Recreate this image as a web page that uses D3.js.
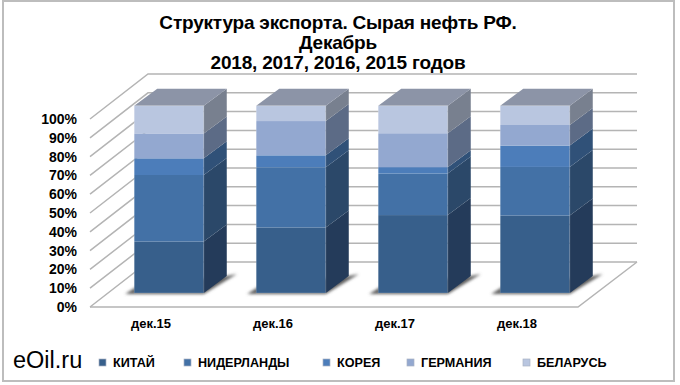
<!DOCTYPE html>
<html>
<head>
<meta charset="utf-8">
<script src="https://cdn.jsdelivr.net/npm/d3@7"></script>
<style>
body { margin: 0; background: #fff; }
text { font-family: "Liberation Sans", Arial, sans-serif; fill: #000; }
</style>
</head>
<body>
<script>
// values in percent
var months = ["дек.15", "дек.16", "дек.17", "дек.18"];
var countries = ["КИТАЙ", "НИДЕРЛАНДЫ", "КОРЕЯ", "ГЕРМАНИЯ", "БЕЛАРУСЬ"];
var china = [27.5, 35, 41.6, 41.4];
var netherlands = [35.5, 32.1, 22.2, 25.9];
var korea = [8.9, 6.4, 3.4, 11.4];
var germany = [13.3, 18.3, 18.1, 11];
var belarus = [14.8, 8.2, 14.7, 10.3];
var yTicks = [0, 10, 20, 30, 40, 50, 60, 70, 80, 90, 100];
var titleLines = ["Структура экспорта. Сырая нефть РФ.", "Декабрь", "2018, 2017, 2016, 2015 годов"];

var frontColors = ["#375f8b", "#4371a6", "#4c7dba", "#93a8d0", "#b9c6e0"];
var sideColors = ["#243b5a", "#2b4869", "#305178", "#5c6b86", "#78808f"];
var legendX = [102, 187, 326, 410, 526];

var width = 680, height = 385;

var rows = months.map(function (m, i) {
    return { month: m, 0: china[i], 1: netherlands[i], 2: korea[i], 3: germany[i], 4: belarus[i] };
});
var stacked = d3.stack().keys([0, 1, 2, 3, 4])(rows);

var svg = d3.select("body").append("svg")
    .attr("width", width)
    .attr("height", height)
    .style("display", "block");

var defs = svg.append("defs");
defs.append("filter").attr("id", "blur")
    .attr("x", "-20%").attr("y", "-50%").attr("width", "140%").attr("height", "200%")
    .append("feGaussianBlur").attr("stdDeviation", 1.6);

// outer frame
svg.append("rect")
    .attr("x", 3).attr("y", 1)
    .attr("width", 671).attr("height", 380)
    .attr("fill", "#fff")
    .attr("stroke", "#bdbdbd")
    .attr("stroke-width", 2);

// title
svg.append("g").selectAll("text").data(titleLines).enter().append("text")
    .attr("x", 338)
    .attr("y", function (d, i) { return 29 + i * 20; })
    .attr("text-anchor", "middle")
    .attr("font-size", "19px")
    .attr("font-weight", "bold")
    .attr("letter-spacing", "-0.2px")
    .text(function (d) { return d; });

// three y scales: front edge of the floor, back wall, and the bars
var yFront = d3.scaleLinear().domain([0, 100]).range([307, 119]);
var yBack = d3.scaleLinear().domain([0, 100]).range([262, 74]);
var yBar = d3.scaleLinear().domain([0, 100]).range([293, 105.7]);
var xFront = d3.scaleBand().domain(months).range([90, 578]);
var xBar = d3.scaleBand().domain(months).range([108, 596]).paddingInner(0.43).paddingOuter(0.215);

var wallLeft = 148, wallRight = 637;
var depthX = 23, depthY = -17;

// walls and floor
var grid = svg.append("g").attr("fill", "none").attr("stroke", "#b4b4b4").attr("stroke-width", 1.5);
grid.selectAll("polyline").data(yTicks).enter().append("polyline")
    .attr("points", function (t) {
        return [[xFront.range()[0], yFront(t)], [wallLeft, yBack(t)], [wallRight, yBack(t)]].join(" ");
    });
grid.append("polyline")
    .attr("points", [[xFront.range()[0], yFront(0)], [xFront.range()[1], yFront(0)], [wallRight, yBack(0)]].join(" "));

// shadows under the bars
svg.append("g").attr("filter", "url(#blur)").attr("fill", "#5f5f5f")
    .selectAll("polygon").data(months).enter().append("polygon")
    .attr("points", function (m) {
        var x0 = xBar(m), x1 = x0 + xBar.bandwidth(), b = yBar(0);
        return [[x0 - 9, b + 1], [x0 + 2, b - 6], [x1 + depthX, b + depthY], [x1 + depthX + 10, b + depthY - 2], [x1, b + 1]].join(" ");
    });

// bars, one group for each month
var bars = svg.append("g").selectAll("g").data(months).enter().append("g");
bars.each(function (m, mi) {
    var g = d3.select(this);
    var x0 = xBar(m), x1 = x0 + xBar.bandwidth();
    stacked.forEach(function (s, si) {
        var y0 = yBar(s[mi][0]), y1 = yBar(s[mi][1]);
        g.append("rect")
            .attr("x", x0).attr("y", y1)
            .attr("width", x1 - x0).attr("height", y0 - y1)
            .attr("fill", frontColors[si]);
        g.append("polygon")
            .attr("points", [[x1, y0], [x1, y1], [x1 + depthX, y1 + depthY], [x1 + depthX, y0 + depthY]].join(" "))
            .attr("fill", sideColors[si]);
    });
    var top = yBar(100);
    g.append("polygon")
        .attr("points", [[x0, top], [x1, top], [x1 + depthX, top + depthY], [x0 + depthX, top + depthY]].join(" "))
        .attr("fill", "#8c94a7");
    // lighter edges like the office bevel
    g.append("rect")
        .attr("x", x0).attr("y", top)
        .attr("width", x1 - x0).attr("height", yBar(0) - top)
        .attr("fill", "none").attr("stroke", "#fff").attr("stroke-opacity", 0.18);
});

// y axis labels
var yAxis = d3.axisLeft(yFront).tickValues(yTicks).tickSize(0).tickPadding(0)
    .tickFormat(function (d) { return d + "%"; });
var yG = svg.append("g").attr("transform", "translate(77,0)").call(yAxis);
yG.select(".domain").remove();
yG.selectAll("text")
    .attr("font-size", "14px").attr("font-weight", "bold")
    .style("font-family", "'Liberation Sans', Arial, sans-serif")
    .style("fill", "#000");

// x axis labels
var xAxis = d3.axisBottom(xFront).tickSize(0).tickPadding(0);
var xG = svg.append("g").attr("transform", "translate(0,319)").call(xAxis);
xG.select(".domain").remove();
xG.selectAll("text")
    .attr("font-size", "13px").attr("font-weight", "bold")
    .style("font-family", "'Liberation Sans', Arial, sans-serif")
    .style("fill", "#000");

// legend
var legend = svg.append("g").selectAll("g").data(countries).enter().append("g")
    .attr("transform", function (d, i) { return "translate(" + legendX[i] + ",362)"; });
legend.append("rect")
    .attr("x", -3).attr("y", -3)
    .attr("width", 7).attr("height", 7)
    .attr("fill", function (d, i) { return frontColors[i]; })
    .attr("stroke", "#a9b3c4").attr("stroke-width", 0.7);
legend.append("text")
    .attr("x", 11).attr("y", 5)
    .attr("font-size", "12.6px").attr("font-weight", "bold")
    .text(function (d) { return d; });

// site mark
svg.append("text")
    .attr("x", 13).attr("y", 368)
    .attr("font-size", "23.5px")
    .text("eOil.ru");
</script>
</body>
</html>
